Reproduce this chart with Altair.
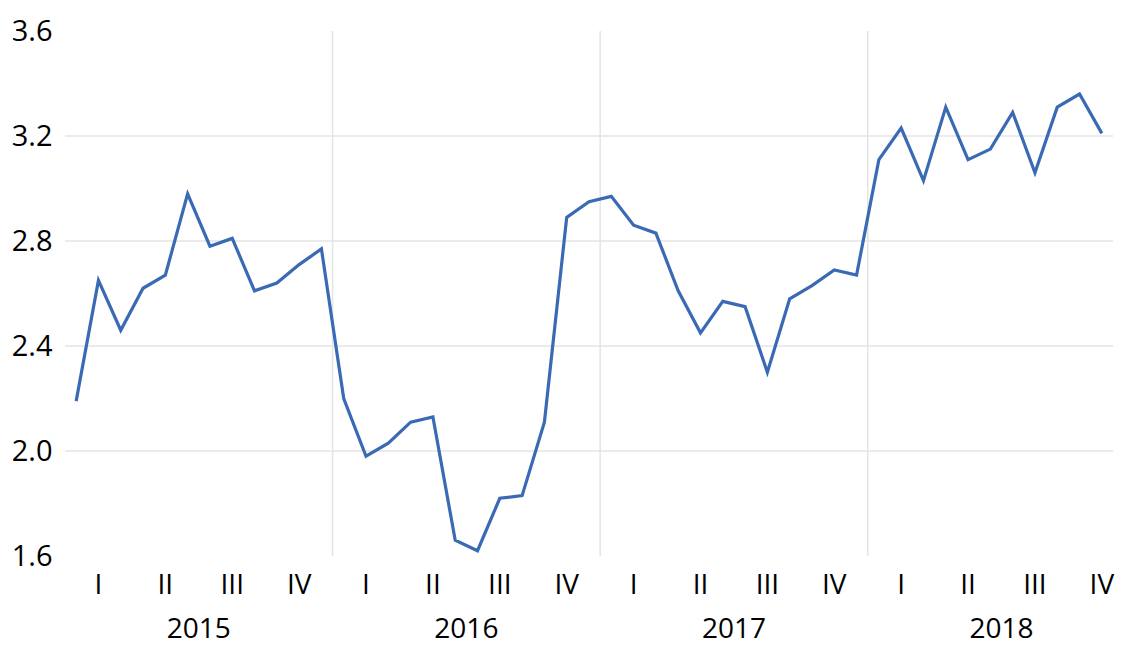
import altair as alt
import pandas as pd

years = ["2015", "2016", "2017", "2018"]
quarters = ["I", "II", "III", "IV"]
values = [
    2.19, 2.65, 2.46, 2.62, 2.67, 2.98, 2.78, 2.81, 2.61, 2.64, 2.71, 2.77,
    2.20, 1.98, 2.03, 2.11, 2.13, 1.66, 1.62, 1.82, 1.83, 2.11, 2.89, 2.95,
    2.97, 2.86, 2.83, 2.61, 2.45, 2.57, 2.55, 2.30, 2.58, 2.63, 2.69, 2.67,
    3.11, 3.23, 3.03, 3.31, 3.11, 3.15, 3.29, 3.06, 3.31, 3.36, 3.21,
]
y_ticks = [1.6, 2.0, 2.4, 2.8, 3.2, 3.6]
grid_values = [2.0, 2.4, 2.8, 3.2]

n = len(values)
line_df = pd.DataFrame({"idx": list(range(n)), "value": values})
q_df = pd.DataFrame({
    "idx": [y * 12 + q * 3 + 1 for y in range(len(years)) for q in range(4)],
    "label": quarters * len(years),
})
year_df = pd.DataFrame({"idx": [y * 12 + 5.5 for y in range(len(years))], "label": years})
sep_df = pd.DataFrame({"idx": [y * 12 - 0.5 for y in range(1, len(years))]})
grid_df = pd.DataFrame({"value": grid_values})

FONT = "Open Sans"
xscale = alt.Scale(domain=[-0.5, n - 0.5], nice=False, zero=False)
yscale = alt.Scale(domain=[1.6, 3.6], nice=False, zero=False)
yaxis = alt.Axis(values=y_ticks, format=".1f", grid=False, domain=False, ticks=False,
                 labelFontSize=29, labelFont=FONT, labelColor="black",
                 labelPadding=13, labelOffset=0, title=None)

grid = alt.Chart(grid_df).mark_rule(color="#e4e4e4", strokeWidth=1.5).encode(
    y=alt.Y("value:Q", scale=yscale, axis=yaxis)
)
sep = alt.Chart(sep_df).mark_rule(color="#e4e4e4", strokeWidth=1.5).encode(
    x=alt.X("idx:Q", scale=xscale, axis=None)
)
line = alt.Chart(line_df).mark_line(color="#3a6ab4", strokeWidth=3.2).encode(
    x=alt.X("idx:Q", scale=xscale, axis=None),
    y=alt.Y("value:Q", scale=yscale, axis=yaxis),
)
qtext = alt.Chart(q_df).mark_text(fontSize=28, font=FONT, color="black", baseline="alphabetic").encode(
    x=alt.X("idx:Q", scale=xscale, axis=None),
    y=alt.value(563),
    text="label:N",
)
ytext = alt.Chart(year_df).mark_text(fontSize=28, font=FONT, color="black", baseline="alphabetic").encode(
    x=alt.X("idx:Q", scale=xscale, axis=None),
    y=alt.value(606.5),
    text="label:N",
)

chart = alt.layer(grid, sep, line, qtext, ytext).properties(
    width=1048,
    height=525,
    autosize=alt.AutoSizeParams(type="none"),
    padding={"left": 57, "top": 23, "right": 2, "bottom": 90},
).configure_view(stroke=None)

chart.save("out.html", embed_options={"renderer": "svg", "actions": False})
